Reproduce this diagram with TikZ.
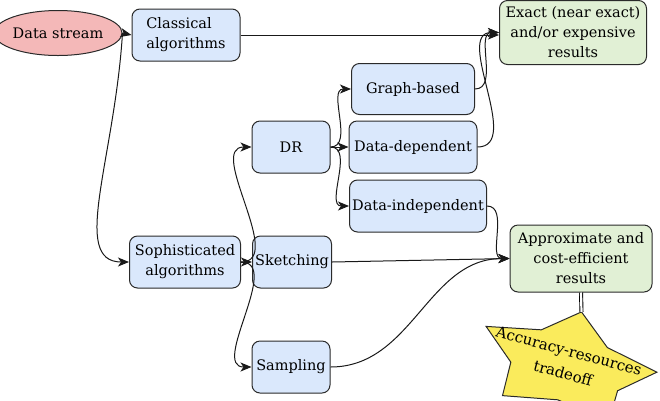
\documentclass[tikz,border=0pt]{standalone}
\usepackage{fontspec}
\setmainfont{DejaVu Serif}
\usetikzlibrary{arrows.meta,shapes.geometric}
\definecolor{boxblue}{HTML}{DAE8FC}
\definecolor{boxgreen}{HTML}{E1F0D5}
\definecolor{boxpink}{HTML}{F4B8B8}
\definecolor{staryellow}{HTML}{FAEB5C}
\definecolor{edgegray}{HTML}{2A2A2A}
\begin{document}
\begin{tikzpicture}[x=1pt,y=1pt,
  font=\fontsize{14.5}{20}\selectfont,
  >={Stealth[length=11pt,width=9pt,inset=3pt]},
  conn/.style={->, line width=1pt, draw=black!90},
  blk/.style={draw=edgegray, line width=1pt, rounded corners=8pt, inner sep=0pt, align=center, text=black},
  algo/.style={blk, fill=boxblue, minimum height=52pt},
  result/.style={blk, fill=boxgreen},
]
\useasboundingbox (0,0) rectangle (660,-400);

% nodes
\node[draw=edgegray, line width=1pt, fill=boxpink, ellipse, minimum width=115pt, minimum height=45pt, inner sep=0pt, text=black] (ds) at (58,-33) {Data stream};
\node[algo, minimum width=108pt, align=left] (classical) at (186,-35) {Classical\\algorithms};
\node[result, minimum width=147pt, minimum height=64pt] (exact) at (573,-32.5) {Exact (near exact)\\and/or expensive\\results};
\node[algo, minimum width=123pt, minimum height=51pt] (graph) at (413,-89) {Graph-based};
\node[algo, minimum width=78pt] (dr) at (291,-147) {DR};
\node[algo, minimum width=128pt] (datadep) at (413,-147) {Data-dependent};
\node[algo, minimum width=137pt] (dataind) at (418,-206) {Data-independent};
\node[algo, minimum width=111pt] (soph) at (185,-262) {Sophisticated\\algorithms};
\node[algo, minimum width=79pt] (sketch) at (292,-262) {Sketching};
\node[result, minimum width=142pt, minimum height=67pt] (approx) at (581,-258.5) {Approximate and\\cost-efficient\\results};
\node[algo, minimum width=78pt] (sampling) at (291,-367) {Sampling};

% star
\begin{scope}[shift={(567,-366)}, rotate=-15, xscale=1.66]
  \draw[draw=edgegray, line width=1pt, fill=staryellow]
    (90:56) -- (126:35) -- (162:56) -- (198:35) -- (234:56) -- (270:35)
    -- (306:56) -- (342:35) -- (18:56) -- (54:35) -- cycle;
  \coordinate (startop) at (90:56);
\end{scope}
\node[rotate=-15, align=center, text=black, font=\fontsize{15}{23}\selectfont] (tradeoff) at (566,-362) {Accuracy-resources\\tradeoff};

% connectors
\draw[conn] (ds.east) -- (classical.west);
\draw[conn] (ds.east) .. controls +(-8,-127) and +(-59,0) .. (soph.west);
\draw[conn] (classical.east) -- (classical.east -| exact.west);
\draw[conn] (graph.east) to[out=0,in=180] (exact.west);
\draw[conn] (datadep.east) to[out=0,in=180] (exact.west);
\draw[conn] (dataind.east) to[out=0,in=180] (approx.west);
\draw[conn] (sketch.east) -- (approx.west);
\draw[conn] (sampling.east) to[out=0,in=180] (approx.west);
\draw[conn] (dr.east) to[out=0,in=180] (graph.west);
\draw[conn] (dr.east) -- (datadep.west);
\draw[conn] (dr.east) to[out=0,in=180] (dataind.west);
\draw[conn] (soph.east) to[out=0,in=180] (dr.west);
\draw[conn] (soph.east) -- (sketch.west);
\draw[conn] (soph.east) to[out=0,in=180] (sampling.west);
\draw[double=white, double distance=2.2pt, line width=0.9pt, draw=black] (approx.south) -- (startop);
\end{tikzpicture}
\end{document}
